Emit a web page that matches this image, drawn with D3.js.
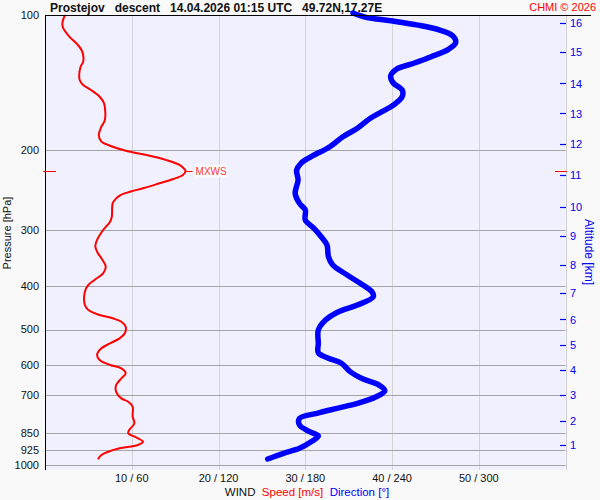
<!DOCTYPE html>
<html>
<head>
<meta charset="utf-8">
<script src="https://cdn.jsdelivr.net/npm/d3@7"></script>
<style>
  body { margin: 0; background: #f9f9f9; }
  svg { display: block; font-family: "Liberation Sans", Arial, sans-serif; }
</style>
</head>
<body>
<script>
// pressure levels (hPa) with grid lines
const pressureTicks = [200, 300, 400, 500, 600, 700, 850, 925, 1000];
// altitude ticks (km) and the pressure where each one sits
const altKm = [1, 2, 3, 4, 5, 6, 7, 8, 9, 10, 11, 12, 13, 14, 15, 16];
const altPressure = [902.8, 797.2, 698.9, 615, 541.2, 474.6, 414.2, 359.4, 309.8, 266.7, 226.8, 193.4, 165.4, 141.9, 121.0, 104.0];
// bottom axis: speed (m/s) / direction (deg)
const speedTicks = [10, 20, 30, 40, 50];
const dirTicks = [60, 120, 180, 240, 300];

// wind speed profile
const speedP = [100, 104.3, 107, 111.7, 116.6, 120.6, 127, 130.3, 139.5, 143.1, 146.8, 151.9, 157.1, 171.2, 177.1, 184.8, 191.2, 195.2,
  200.3, 204.7, 210.1, 215.4, 220.3, 222.2, 226.8, 231.8, 236.6, 242.7, 247, 251.2, 255.6, 262.2, 280.7, 288, 300.5, 316.2,
  327.2, 338.5, 347.3, 362.5, 375, 388, 398.1, 412, 441.1, 452.5, 464.2, 472.1, 480.4, 492.8, 509.7, 523, 536.6, 550.5,
  569.6, 584.3, 599.5, 609.7, 625.6, 641.9, 664.4, 687.6, 711.1, 723.6, 742.2, 781.2, 808, 836.2, 850.6, 868.1, 887.9,
  902.8, 918.2, 934.2, 950.1, 971.2];
const speedV = [2.3, 2.0, 2.1, 2.8, 3.8, 4.3, 4.4, 4.1, 4.0, 4.4, 5.3, 6.3, 6.8, 6.9, 6.5, 6.2, 6.5, 7.5,
  9.3, 11.7, 14.0, 15.5, 16.1, 16.2, 15.9, 14.7, 13.2, 11.3, 9.8, 8.7, 8.2, 7.8, 7.7, 7.5, 6.7, 6.0,
  5.8, 6.1, 6.5, 7.0, 6.7, 5.7, 5.0, 4.6, 4.6, 5.0, 6.3, 7.8, 8.8, 9.3, 9.2, 8.6, 7.5, 6.5,
  6.0, 6.3, 7.5, 8.8, 9.3, 8.8, 8.2, 8.2, 8.8, 9.6, 10.1, 10.1, 10.3, 9.7, 9.6, 10.5, 11.3,
  10.7, 8.6, 7.3, 6.5, 6.1];

// wind direction profile
const dirP = [99, 101.2, 103, 105.2, 108, 111.3, 115.2, 119.2, 123.8, 128, 132, 136.6, 141.8, 146.8, 151.9, 158.5, 164, 169.6,
  178.5, 186.4, 196.2, 206.5, 213.6, 221.1, 232.6, 249.1, 262.2, 271.3, 285.5, 297.9, 311, 324.4, 344.4, 359.4, 378.3,
  394.7, 412, 422.7, 441.1, 456.4, 476.3, 501.2, 536.6, 563, 579.2, 594.3, 620.3, 644.2, 664.4, 684, 705.3, 729.6,
  748.2, 767.6, 787.5, 815, 843.3, 862.4, 887.9, 918.2, 941.9, 969.7];
const dirV = [213, 222, 239, 257, 273, 282, 284, 279, 267, 255, 243, 239, 241, 247, 247, 241, 233, 225,
  216, 206, 197, 184, 177, 174, 175, 173, 176, 180, 180, 186, 191, 195, 196, 199, 209,
  218, 226, 227, 216, 203, 194, 189, 189, 189, 196, 205, 211, 220, 231, 235, 229, 216,
  202, 188, 176, 176, 183, 189, 184, 176, 165, 154];

const mxwsP = 222.2;

const width = 600, height = 500;
const plotL = 45, plotR = 565.6, plotT = 15, p1000Y = 465, plotB = 470;

const y = d3.scaleLog().domain([100, 1000]).range([plotT, p1000Y]);
const xs = d3.scaleLinear().domain([0, 60]).range([plotL, plotR]);
const xd = d3.scaleLinear().domain([0, 360]).range([plotL, plotR]);

const svg = d3.select("body").append("svg")
    .attr("width", width)
    .attr("height", height);

svg.append("rect")
    .attr("x", plotL).attr("y", plotT)
    .attr("width", plotR - plotL).attr("height", plotB - plotT)
    .attr("fill", "#f0f0fe");

// vertical wind grid
svg.append("g")
    .attr("stroke", "#d4d4d8")
  .selectAll("line")
  .data(speedTicks)
  .join("line")
    .attr("x1", d => Math.round(xs(d)) + 0.5).attr("x2", d => Math.round(xs(d)) + 0.5)
    .attr("y1", plotT).attr("y2", plotB);

// pressure grid
svg.append("g")
    .attr("stroke", "#a4a4a4")
  .selectAll("line")
  .data(pressureTicks)
  .join("line")
    .attr("x1", plotL).attr("x2", plotR)
    .attr("y1", d => Math.round(y(d)) + 0.5).attr("y2", d => Math.round(y(d)) + 0.5);

// right frame line
svg.append("line")
    .attr("x1", Math.round(plotR) + 0.5).attr("x2", Math.round(plotR) + 0.5)
    .attr("y1", plotT).attr("y2", plotB)
    .attr("stroke", "#d0d0d4");

// pressure labels
svg.append("g")
    .attr("font-size", 11)
    .attr("text-anchor", "end")
    .attr("fill", "#111")
  .selectAll("text")
  .data([100, ...pressureTicks])
  .join("text")
    .attr("x", 39)
    .attr("y", d => y(d))
    .attr("dy", "0.35em")
    .text(d => d);

svg.append("text")
    .attr("transform", `translate(11,${233}) rotate(-90)`)
    .attr("text-anchor", "middle")
    .attr("font-size", 11)
    .attr("fill", "#111")
    .text("Pressure [hPa]");

// altitude axis
const alt = svg.append("g").attr("fill", "#0000ee").attr("font-size", 11);
alt.selectAll("line")
  .data(altKm)
  .join("line")
    .attr("x1", 560).attr("x2", 566)
    .attr("y1", (d, i) => Math.round(y(altPressure[i])) + 0.5)
    .attr("y2", (d, i) => Math.round(y(altPressure[i])) + 0.5)
    .attr("stroke", "#0000ee")
    .attr("stroke-width", 1.2);
alt.selectAll("text")
  .data(altKm)
  .join("text")
    .attr("x", 570)
    .attr("y", (d, i) => y(altPressure[i]))
    .attr("dy", "0.38em")
    .text(d => d);

svg.append("text")
    .attr("transform", `translate(585,${252}) rotate(90)`)
    .attr("text-anchor", "middle")
    .attr("font-size", 12)
    .attr("fill", "#0000ee")
    .text("Altitude [km]");

// bottom labels
svg.append("g")
    .attr("font-size", 11)
    .attr("text-anchor", "middle")
    .attr("fill", "#111")
  .selectAll("text")
  .data(speedTicks)
  .join("text")
    .attr("x", d => xs(d))
    .attr("y", 482)
    .text((d, i) => `${d} / ${dirTicks[i]}`);

const legend = svg.append("text")
    .attr("x", 307)
    .attr("y", 496)
    .attr("text-anchor", "middle")
    .attr("font-size", 11.5)
    .attr("xml:space", "preserve");
legend.append("tspan").attr("fill", "#111").text("WIND  ");
legend.append("tspan").attr("fill", "#ff0000").text("Speed [m/s]  ");
legend.append("tspan").attr("fill", "#0000ff").text("Direction [°]");

// title
svg.append("text")
    .attr("x", 50)
    .attr("y", 12)
    .attr("font-size", 12)
    .attr("font-weight", "bold")
    .attr("fill", "#111")
    .attr("xml:space", "preserve")
    .text("Prostejov   descent   14.04.2026 01:15 UTC   49.72N,17.27E");

svg.append("text")
    .attr("x", 596)
    .attr("y", 11)
    .attr("text-anchor", "end")
    .attr("font-size", 11)
    .attr("fill", "#ff0000")
    .text("CHMI © 2026");

// wind direction
svg.append("path")
    .datum(dirP.map((p, i) => [dirV[i], p]))
    .attr("fill", "none")
    .attr("stroke", "#0000ff")
    .attr("stroke-width", 5.5)
    .attr("stroke-linecap", "round")
    .attr("stroke-linejoin", "round")
    .attr("d", d3.line().x(d => xd(d[0])).y(d => y(d[1])).curve(d3.curveCatmullRom));

// wind speed
svg.append("path")
    .datum(speedP.map((p, i) => [speedV[i], p]))
    .attr("fill", "none")
    .attr("stroke", "#ff0000")
    .attr("stroke-width", 2)
    .attr("stroke-linejoin", "round")
    .attr("d", d3.line().x(d => xs(d[0])).y(d => y(d[1])).curve(d3.curveCatmullRom));

// top and left frame
svg.append("line")
    .attr("x1", plotL).attr("x2", 591)
    .attr("y1", plotT + 0.5).attr("y2", plotT + 0.5)
    .attr("stroke", "#000");
svg.append("line")
    .attr("x1", plotL + 0.5).attr("x2", plotL + 0.5)
    .attr("y1", plotT).attr("y2", plotB)
    .attr("stroke", "#000");

// max wind marker
const mxY = Math.round(y(mxwsP)) + 0.5;
const mxV = d3.max(speedV);
svg.append("line")
    .attr("x1", 43).attr("x2", 56).attr("y1", mxY).attr("y2", mxY)
    .attr("stroke", "#ff0000");
svg.append("line")
    .attr("x1", 555).attr("x2", 567).attr("y1", mxY).attr("y2", mxY)
    .attr("stroke", "#ff0000");
svg.append("line")
    .attr("x1", xs(mxV)).attr("x2", xs(mxV) + 7).attr("y1", mxY).attr("y2", mxY)
    .attr("stroke", "#ff0000");
svg.append("rect")
    .attr("x", xs(mxV) + 9).attr("y", mxY - 7)
    .attr("width", 33).attr("height", 13)
    .attr("fill", "#fafaff");
svg.append("text")
    .attr("x", xs(mxV) + 10)
    .attr("y", mxY)
    .attr("dy", "0.35em")
    .attr("font-size", 10)
    .attr("fill", "#ff3b3b")
    .text("MXWS");
</script>
</body>
</html>
